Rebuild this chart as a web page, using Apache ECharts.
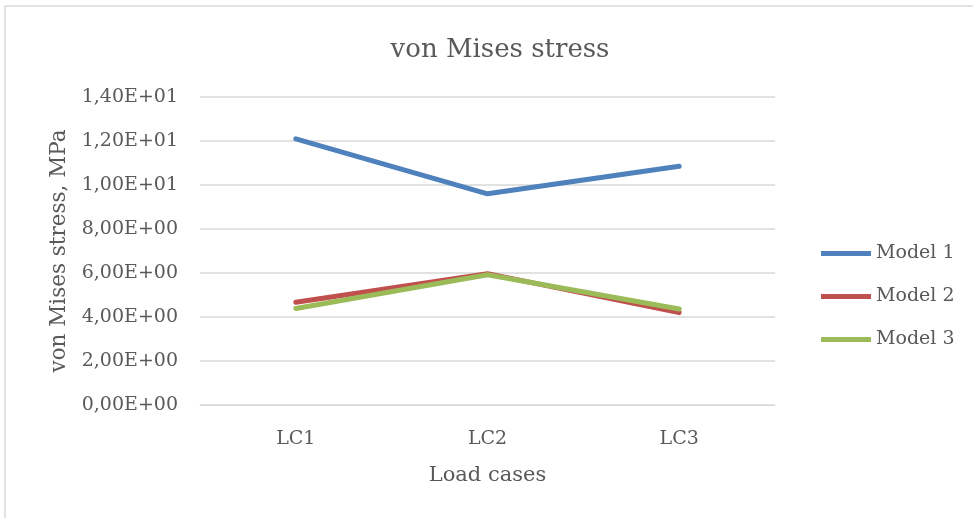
<!DOCTYPE html>
<html>
<head>
<meta charset="utf-8">
<script src="https://cdn.jsdelivr.net/npm/echarts@6/dist/echarts.min.js"></script>
<style>
  html, body { margin: 0; padding: 0; background: #fff; }
  #chart { width: 973px; height: 518px; }
</style>
</head>
<body>
<div id="chart"></div>
<script>
// Load cases on the category axis
const categories = ['LC1', 'LC2', 'LC3'];
// von Mises stress per model, MPa
const model1 = [12.1, 9.6, 10.85];
const model2 = [4.67, 5.97, 4.2];
const model3 = [4.39, 5.92, 4.36];
const seriesNames = ['Model 1', 'Model 2', 'Model 3'];
const seriesColors = ['#4F81BD', '#C0504D', '#9BBB59'];

const FONT = '"DejaVu Serif", "Liberation Serif", serif';
const TEXT = '#595959';

const chart = echarts.init(document.getElementById('chart'), null, { renderer: 'canvas' });

function fmtSci(v) {
  if (v === 0) return '0,00E+00';
  const e = Math.floor(Math.log10(Math.abs(v)));
  const m = v / Math.pow(10, e);
  const sign = e < 0 ? '-' : '+';
  const ea = Math.abs(e);
  return m.toFixed(2).replace('.', ',') + 'E' + sign + (ea < 10 ? '0' + ea : '' + ea);
}

const data = [model1, model2, model3];

chart.setOption({
  backgroundColor: '#fff',
  animation: false,
  textStyle: { fontFamily: FONT },
  title: {
    text: 'von Mises stress',
    left: 495,
    top: 32,
    textAlign: 'center',
    textStyle: { fontFamily: FONT, fontSize: 26, fontWeight: 'normal', color: TEXT }
  },
  legend: {
    orient: 'vertical',
    left: 816,
    top: 239,
    itemGap: 24,
    itemWidth: 50,
    itemHeight: 5,
    icon: 'rect',
    textStyle: { fontFamily: FONT, fontSize: 19, color: TEXT, padding: [0, 0, 0, 0] },
    data: seriesNames
  },
  grid: { left: 200, right: 198, top: 97, bottom: 113, containLabel: false },
  xAxis: {
    type: 'category',
    data: categories,
    boundaryGap: true,
    name: 'Load cases',
    nameLocation: 'middle',
    nameGap: 60,
    nameTextStyle: { fontFamily: FONT, fontSize: 21, color: TEXT },
    axisLine: { show: true, lineStyle: { color: '#D9D9D9', width: 1 } },
    axisTick: { show: false },
    axisLabel: { fontFamily: FONT, fontSize: 19, color: TEXT, margin: 25 }
  },
  yAxis: {
    type: 'value',
    min: 0,
    max: 14,
    interval: 2,
    name: 'von Mises stress, MPa',
    nameLocation: 'middle',
    nameGap: 128,
    nameRotate: 90,
    nameTextStyle: { fontFamily: FONT, fontSize: 21.5, color: TEXT },
    axisLine: { show: false },
    axisTick: { show: false },
    splitLine: { lineStyle: { color: '#D9D9D9', width: 1.5 } },
    axisLabel: { fontFamily: FONT, fontSize: 19, color: TEXT, margin: 22, formatter: fmtSci }
  },
  graphic: [
    {
      type: 'polyline',
      shape: { points: [[5, 518], [5, 6], [973, 6]] },
      style: { stroke: '#D9D9D9', lineWidth: 1.5, fill: null },
      silent: true
    }
  ],
  series: seriesNames.map((name, i) => ({
    name: name,
    type: 'line',
    data: data[i],
    showSymbol: false,
    symbol: 'none',
    lineStyle: { color: seriesColors[i], width: 5, cap: 'round', join: 'round' },
    itemStyle: { color: seriesColors[i] }
  }))
});
</script>
</body>
</html>
